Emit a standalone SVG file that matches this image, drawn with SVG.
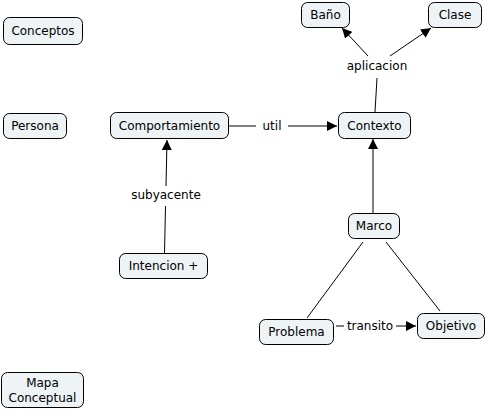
<svg xmlns="http://www.w3.org/2000/svg" width="487" height="416" viewBox="0 0 487 416">
<defs>
<marker id="ah" viewBox="0 0 10 10" refX="10" refY="5" markerWidth="10" markerHeight="10" markerUnits="userSpaceOnUse" orient="auto">
<path d="M0,0 L10,5 L0,10 z" fill="#000"/>
</marker>
<style>
.n rect{fill:#EEF3F5;stroke:#000;stroke-width:1}
text{font-family:"DejaVu Sans",Verdana,sans-serif;font-size:12px;fill:#000;text-anchor:middle}
.c line{stroke:#000;stroke-width:1}
.a{marker-end:url(#ah)}
</style>
</defs>
<rect width="487" height="416" fill="#fff"/>
<g class="c">
<line x1="228" y1="126" x2="256" y2="126"/>
<text x="272" y="130">util</text>
<line class="a" x1="288" y1="126" x2="337" y2="126"/>
<line x1="164.5" y1="253" x2="165.5" y2="206"/>
<text x="166" y="199">subyacente</text>
<line class="a" x1="166" y1="186" x2="167" y2="140"/>
<line x1="375" y1="112" x2="377" y2="78"/>
<text x="377" y="70">aplicacion</text>
<line class="a" x1="368" y1="56" x2="342" y2="28"/>
<line class="a" x1="390" y1="56" x2="431" y2="28"/>
<line class="a" x1="373" y1="213" x2="373" y2="139"/>
<line x1="363" y1="242" x2="307" y2="318"/>
<line x1="386" y1="242" x2="440" y2="311"/>
<line x1="336" y1="326" x2="344" y2="326"/>
<text x="370" y="330">transito</text>
<line class="a" x1="396" y1="326" x2="416" y2="326"/>
</g>
<g id="conceptos" class="n"><rect x="3.5" y="17.5" width="79" height="27" rx="6"/><text x="43" y="35">Conceptos</text></g>
<g id="persona" class="n"><rect x="3.5" y="113.5" width="63" height="25" rx="6"/><text x="35" y="130">Persona</text></g>
<g id="comportamiento" class="n"><rect x="110.5" y="112.5" width="118" height="26" rx="6"/><text x="169.5" y="130">Comportamiento</text></g>
<g id="bano" class="n"><rect x="301.5" y="2.5" width="48" height="25" rx="6"/><text x="325.5" y="19">Baño</text></g>
<g id="clase" class="n"><rect x="428.5" y="2.5" width="53" height="25" rx="6"/><text x="455" y="19">Clase</text></g>
<g id="contexto" class="n"><rect x="338.5" y="112.5" width="72" height="26" rx="6"/><text x="374.5" y="130">Contexto</text></g>
<g id="intencion" class="n"><rect x="119.5" y="253.5" width="88" height="25" rx="6"/><text x="163.5" y="270">Intencion +</text></g>
<g id="marco" class="n"><rect x="348.5" y="213.5" width="51" height="25" rx="6"/><text x="374" y="230">Marco</text></g>
<g id="problema" class="n"><rect x="259.5" y="319.5" width="74" height="25" rx="6"/><text x="296.5" y="336">Problema</text></g>
<g id="objetivo" class="n"><rect x="417.5" y="313.5" width="67" height="25" rx="6"/><text x="451" y="330">Objetivo</text></g>
<g id="mapa" class="n"><rect x="1.5" y="372.5" width="82" height="35" rx="6"/><text x="42.5" y="387">Mapa</text><text x="42.5" y="402">Conceptual</text></g>
</svg>
